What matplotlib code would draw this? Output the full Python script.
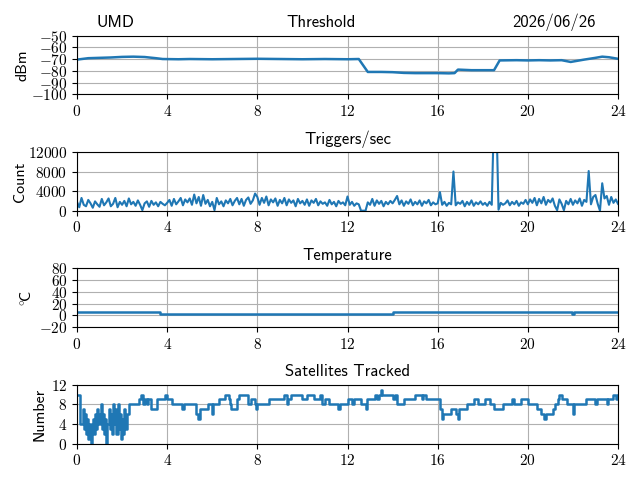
import numpy as np
import matplotlib
matplotlib.use("Agg")
import matplotlib.pyplot as plt
from matplotlib.ticker import FuncFormatter

# ---------------- data ----------------
hour_ticks = [0, 4, 8, 12, 16, 20, 24]

thr_t = [0, 0.5, 1, 1.5, 2, 2.5, 3, 3.5, 3.8, 4.5, 5, 6, 7, 8, 9, 10, 11, 12,
         12.5, 12.9, 13.5, 14, 14.5, 15, 15.5, 16, 16.5, 16.75, 16.9, 17.5, 18,
         18.5, 18.75, 19.5, 20, 20.5, 21, 21.5, 21.9, 22.2, 22.5, 23, 23.3, 23.6, 24]
thr_v = [-70.5, -69.3, -69, -68.7, -68.2, -68, -68.3, -69.3, -70, -70.2, -70,
         -70.2, -70, -69.8, -70, -70.2, -70, -70.2, -70, -81, -81, -81.2, -81.8,
         -82, -82, -82, -82.2, -82, -79, -79.5, -79.5, -79.5, -71.2, -71, -71.2,
         -71, -71.2, -71, -72.5, -71.5, -70.5, -69, -68, -68.5, -69.8]

trig_v = [
    1800, 700, 2600, 1200, 900, 2200, 1500, 600, 1900, 1300,
    800, 2400, 1100, 1700, 2500, 900, 1400, 2600, 700, 1800,
    1200, 2000, 900, 2500, 1300, 1800, 1000, 2100, 1200, 100,
    1500, 1900, 800, 2000, 1200, 1700, 900, 1800, 1400, 1100,
    1600, 2200, 1000, 2400, 1300, 1900, 2600, 1100, 2300, 1700,
    2500, 1200, 3300, 1500, 2800, 1000, 3200, 1400, 2200, 900,
    1800, 100, 2600, 1300, 1900, 900, 2100, 1500, 2400, 1100,
    2000, 2600, 1300, 2400, 1000, 2200, 2700, 1400, 2100, 3500,
    2800, 1200, 2600, 1600, 2900, 1100, 2300, 1700, 2500, 1000,
    2200, 1500, 2600, 1100, 2300, 1600, 2100, 900, 2400, 1500,
    2000, 1200, 2300, 1000, 2100, 1600, 2400, 1100, 1900, 1400,
    1700, 1000, 2200, 1300, 1800, 900, 2000, 1400, 1700, 1100,
    2900, 1200, 1800, 1000, 1500, 1300, 0, 0, 0, 1700,
    1200, 2400, 1000, 2100, 1400, 2000, 900, 1800, 1300, 2000,
    1500, 2200, 3000, 1300, 2100, 1000, 1900, 1400, 2300, 1100,
    1800, 1300, 2100, 1000, 1900, 1500, 2200, 1100, 1700, 1300,
    1500, 3800, 1200, 1800, 1000, 1600, 1300, 8000, 1100, 1700,
    1400, 2000, 900, 1800, 1200, 2100, 1000, 1700, 1300, 1900,
    1200, 1600, 1000, 1800, 1200, 20000, 20000, 200, 1600, 1200,
    1500, 2100, 1100, 1800, 1300, 2000, 1000, 1700, 1400, 2200,
    1300, 2300, 1600, 2600, 1100, 2400, 1500, 2800, 1200, 2200,
    1700, 2500, 1000, 100, 2300, 1400, 100, 2000, 1300, 2400,
    1200, 2100, 1500, 2500, 1000, 2200, 1800, 8100, 1300, 2800,
    3200, 1400, 0, 5600, 2500, 3000, 1200, 2800, 1600, 2300,
    1400]

temp_t = [0, 3.7, 14.0, 21.95, 22.05, 24]
temp_v = [5, 3, 5, 3, 5, 5]

sat_t = [0, 0.15, 0.25, 0.3, 0.35, 0.4, 0.45, 0.5, 0.55, 0.6, 0.65, 0.7, 0.75,
         0.8, 0.85, 0.9, 0.95, 1.0, 1.05, 1.1, 1.15, 1.2, 1.25, 1.3, 1.35, 1.4,
         1.45, 1.5, 1.55, 1.6, 1.65, 1.7, 1.75, 1.8, 1.85, 1.9, 1.95, 2.0, 2.05,
         2.1, 2.15, 2.2, 2.3, 2.75, 2.85, 2.95, 3.0, 3.1, 3.15, 3.3, 3.55, 3.9,
         4.0, 4.2, 4.65, 4.75, 5.3, 5.35, 5.45, 5.8, 6.0, 6.05, 6.3, 6.55, 6.75,
         6.8, 6.85, 7.1, 7.2, 7.6, 7.7, 7.9, 7.95, 8.0, 8.5, 9.2, 9.3, 9.35, 9.5,
         10.0, 10.2, 10.5, 10.8, 10.85, 11.0, 11.2, 11.6, 11.65, 12.0, 12.2,
         12.3, 12.6, 12.8, 12.85, 13.2, 13.3, 13.4, 13.5, 13.55, 14.0, 14.1,
         14.2, 14.5, 15.0, 15.3, 15.35, 15.5, 16.1, 16.2, 16.25, 16.6, 16.8,
         16.9, 16.95, 17.3, 17.6, 17.8, 18.1, 18.3, 18.5, 18.9, 19.3, 19.4,
         19.7, 20.0, 20.4, 20.6, 20.7, 20.8, 21.1, 21.2, 21.35, 21.4, 21.5,
         21.75, 22.0, 22.05, 22.6, 23.0, 23.05, 23.5, 23.55, 23.8, 23.9, 24.0]
sat_v = [10, 4, 7, 3, 6, 2, 5, 1, 4, 0, 3, 5, 2,
         6, 3, 7, 4, 6, 8, 3, 6, 2, 5, 0, 4, 7,
         3, 6, 2, 8, 4, 7, 2, 8, 3, 6, 1, 5, 2,
         7, 3, 6, 8, 9, 10, 8, 9, 8, 9, 7, 9, 10,
         9, 8, 7, 8, 6, 5, 7, 8, 6, 8, 9, 10, 9,
         8, 7, 9, 10, 8, 9, 8, 7, 8, 9, 10, 8, 9, 10,
         9, 10, 9, 10, 8, 9, 8, 7, 8, 9, 8,
         9, 8, 7, 9, 10, 9, 10, 11, 10, 9, 10,
         8, 9, 10, 9, 10, 9, 7, 5, 6, 7, 6,
         5, 7, 8, 9, 8, 9, 8, 7, 8, 9, 8,
         9, 8, 7, 6, 5, 6, 7, 8, 9, 10, 9,
         8, 6, 8, 9, 8, 9, 8, 9, 10, 9, 10]

site = "UMD"
date_str = "2026/06/26"

# ---------------- style ----------------
plt.rcParams['font.family'] = ['cmss10', 'DejaVu Sans']
plt.rcParams['mathtext.fontset'] = 'cm'
plt.rcParams['axes.unicode_minus'] = True

math_fmt = FuncFormatter(lambda v, p: r'$%d$' % int(round(v)))

fig, axes = plt.subplots(4, 1, figsize=(6.4, 4.8), dpi=100)
fig.subplots_adjust(left=77/640, right=618/640, top=1-35.5/480,
                    bottom=1-443.5/480, hspace=0.98)

trig_t = np.linspace(0, 24, len(trig_v))
label_fs = 11.5

ax = axes[0]
ax.plot(thr_t, thr_v, color='C0', lw=1.8)
ax.set_ylim(-100, -50)
ax.set_yticks([-100, -90, -80, -70, -60, -50])
ax.set_ylabel('dBm', fontsize=label_fs)
ax.yaxis.set_label_coords(-0.087, 0.5)
ax.annotate(site, xy=(0.0366, 1.0), xycoords='axes fraction', xytext=(0, 6),
            textcoords='offset points', ha='left', va='baseline', fontsize=12)
ax.annotate('Threshold', xy=(0.452, 1.0), xycoords='axes fraction', xytext=(0, 6),
            textcoords='offset points', ha='center', va='baseline', fontsize=12)
ax.annotate(date_str, xy=(0.959, 1.0), xycoords='axes fraction', xytext=(0, 6),
            textcoords='offset points', ha='right', va='baseline', fontsize=12)

ax = axes[1]
ax.plot(trig_t, trig_v, color='C0', lw=1.5)
ax.set_ylim(0, 12000)
ax.set_yticks([0, 4000, 8000, 12000])
ax.set_ylabel('Count', fontsize=label_fs)
ax.yaxis.set_label_coords(-0.093, 0.5)
ax.set_title('Triggers/sec', fontsize=12)

ax = axes[2]
ax.plot(temp_t, temp_v, color='C0', lw=1.8, drawstyle='steps-post')
ax.set_ylim(-20, 80)
ax.set_yticks([-20, 0, 20, 40, 60, 80])
ax.set_ylabel(r'$^{\circ}\!$C', fontsize=label_fs)
ax.yaxis.set_label_coords(-0.077, 0.5)
ax.set_title('Temperature', fontsize=12)

ax = axes[3]
ax.plot(sat_t, sat_v, color='C0', lw=1.8, drawstyle='steps-post')
ax.set_ylim(0, 12)
ax.set_yticks([0, 4, 8, 12])
ax.set_ylabel('Number', fontsize=label_fs)
ax.yaxis.set_label_coords(-0.056, 0.5)
ax.set_title('Satellites Tracked', fontsize=12)

for ax in axes:
    ax.set_xlim(0, 24)
    ax.set_xticks(hour_ticks)
    ax.xaxis.set_major_formatter(math_fmt)
    ax.yaxis.set_major_formatter(math_fmt)
    ax.tick_params(labelsize=11)
    ax.grid(True)

fig.savefig('out.png', dpi=100)
